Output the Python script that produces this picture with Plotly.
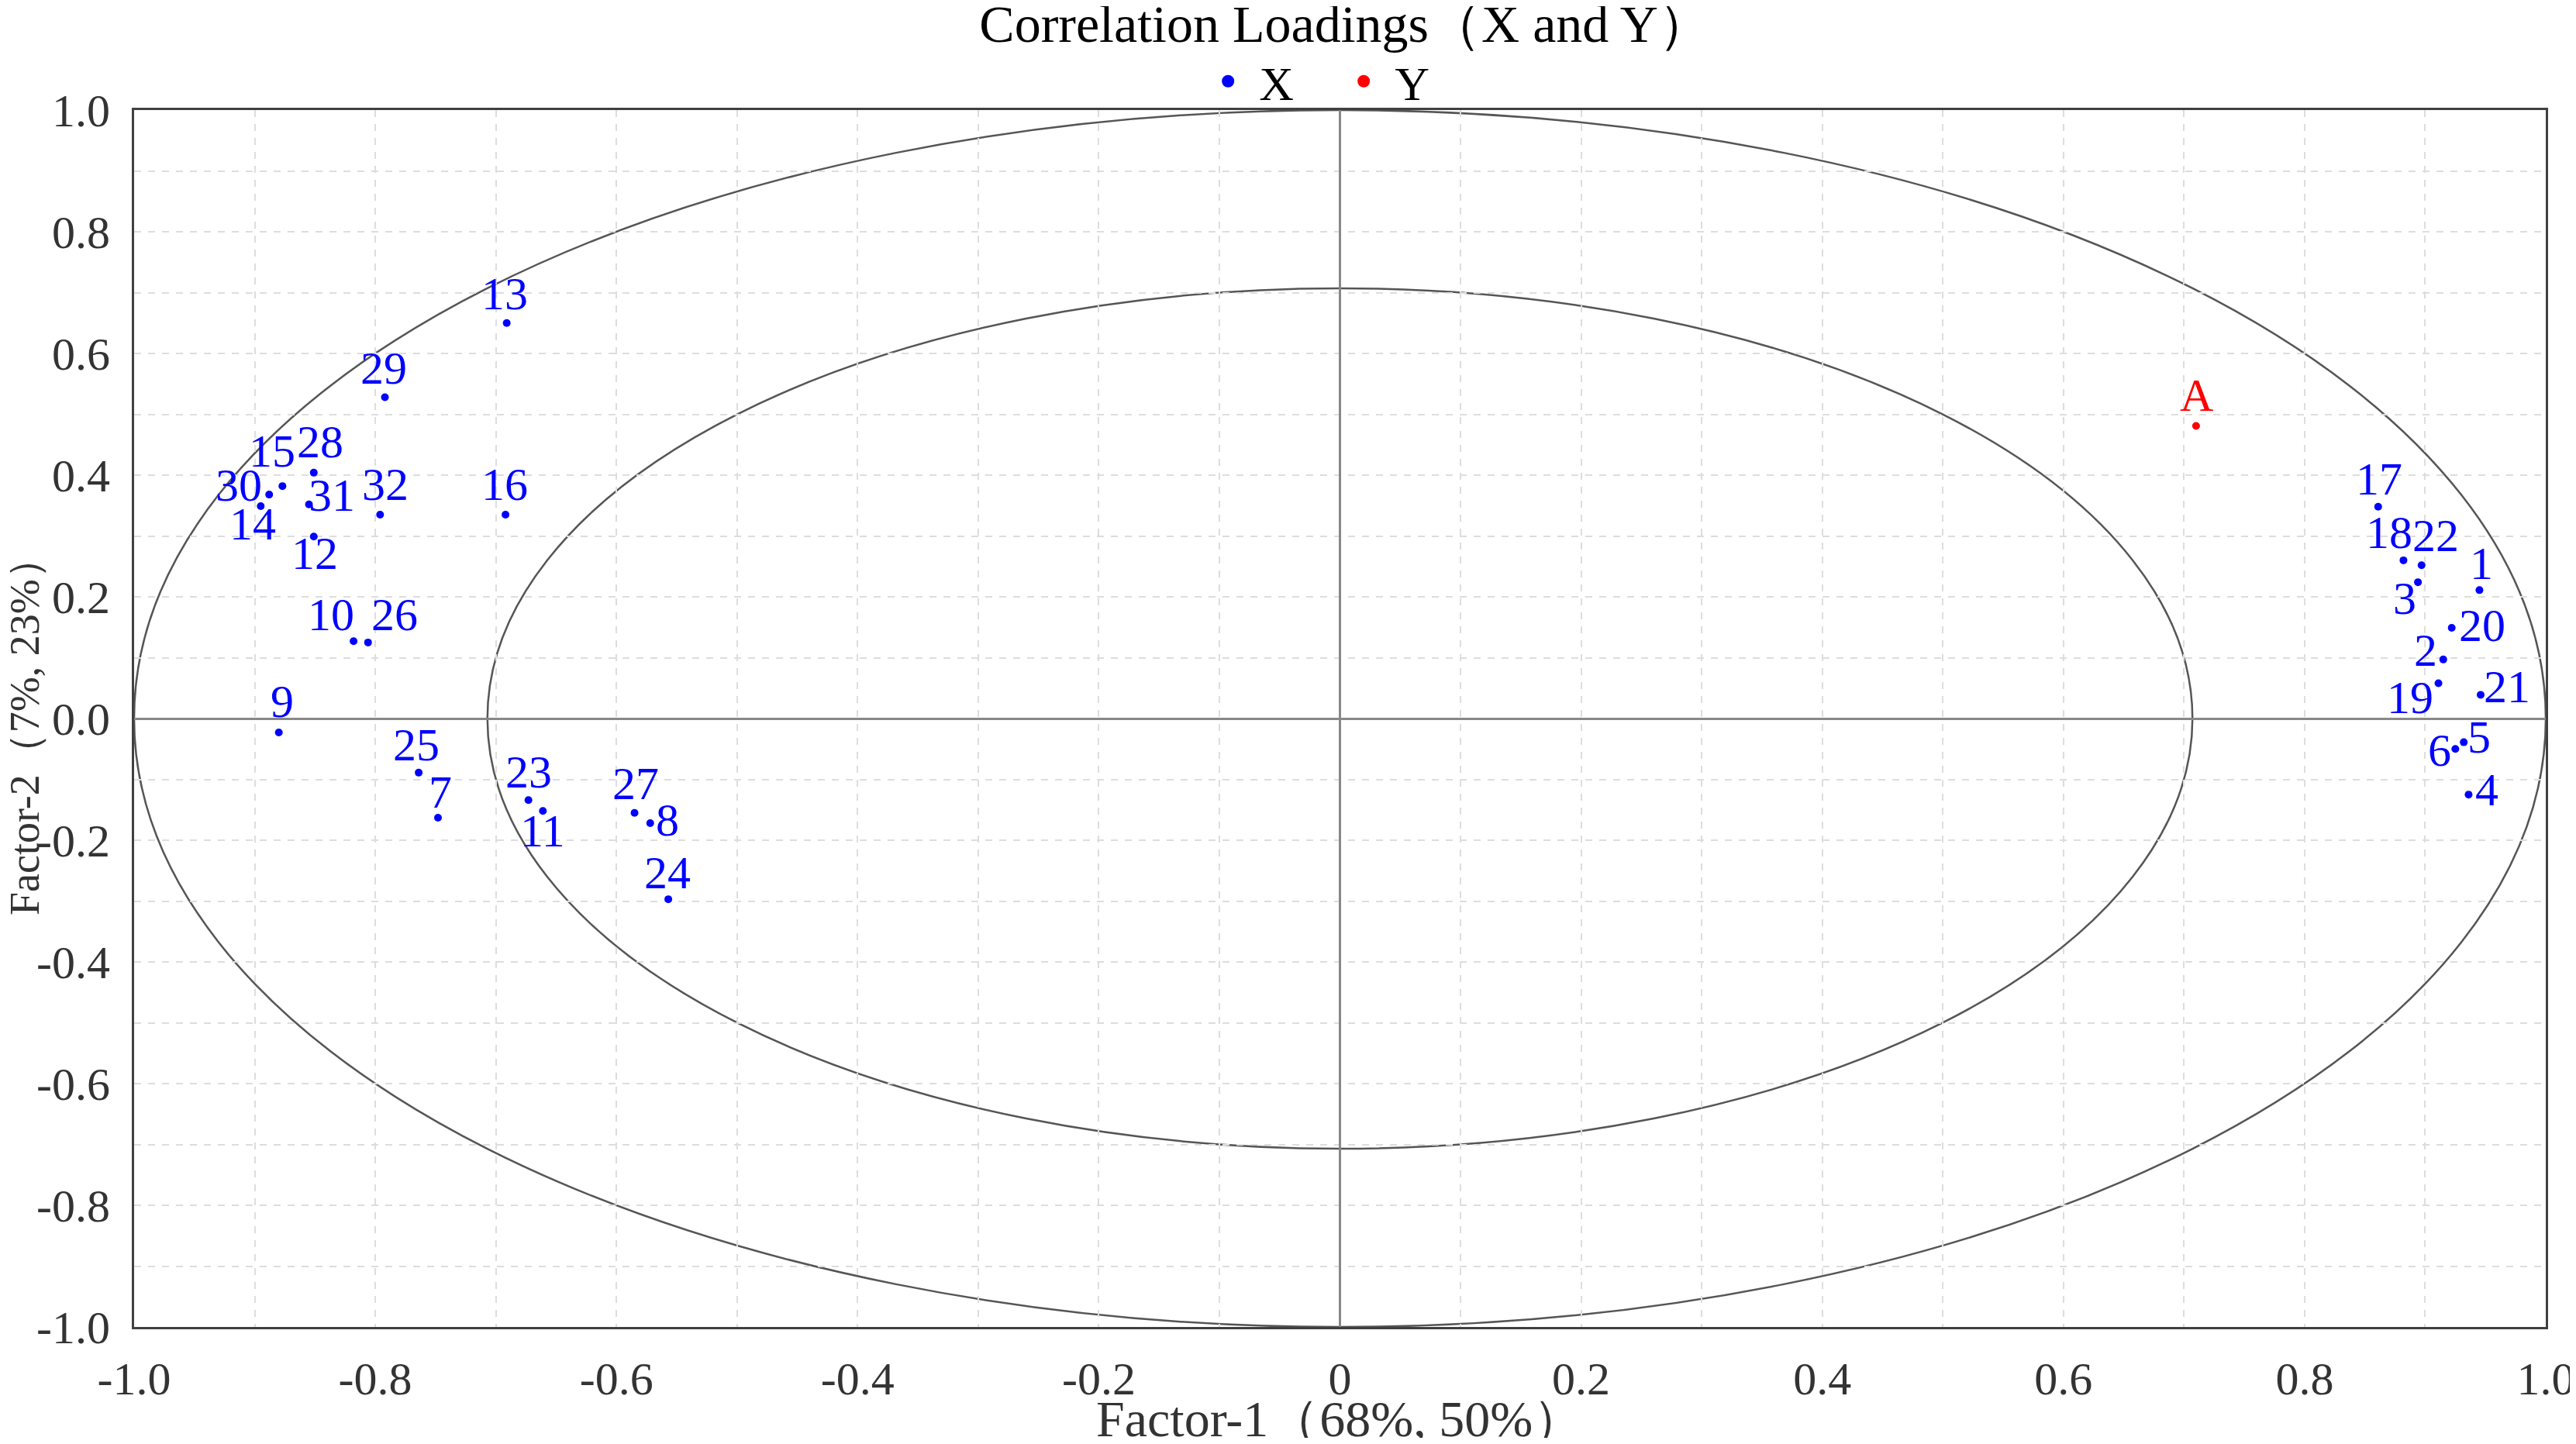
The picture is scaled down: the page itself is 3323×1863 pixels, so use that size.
import plotly.graph_objects as go

# X loadings (factor-1, factor-2)
x_labels = [str(i) for i in range(1, 33)]
x_factor1 = [0.945, 0.915, 0.894, 0.936, 0.932, 0.925, -0.748, -0.572,
             -0.880, -0.818, -0.661, -0.851, -0.691, -0.895, -0.877, -0.692,
             0.861, 0.882, 0.911, 0.922, 0.946, 0.897, -0.673, -0.557,
             -0.764, -0.806, -0.585, -0.851, -0.792, -0.888, -0.855, -0.796]
x_factor2 = [0.211, 0.097, 0.224, -0.125, -0.039, -0.050, -0.163, -0.172,
             -0.023, 0.127, -0.152, 0.299, 0.650, 0.349, 0.382, 0.335,
             0.348, 0.260, 0.058, 0.149, 0.039, 0.252, -0.134, -0.297,
             -0.089, 0.125, -0.155, 0.404, 0.528, 0.368, 0.352, 0.335]

# Y loadings
y_labels = ["A"]
y_factor1 = [0.710]
y_factor2 = [0.481]

# explained variance ellipses (100% and 50%)
ellipse_radii = [1.0, 0.707]

xtick_vals = [-1.0, -0.8, -0.6, -0.4, -0.2, 0, 0.2, 0.4, 0.6, 0.8, 1.0]
xtick_text = ["-1.0", "-0.8", "-0.6", "-0.4", "-0.2", "0", "0.2", "0.4", "0.6", "0.8", "1.0"]
ytick_vals = [1.0, 0.8, 0.6, 0.4, 0.2, 0.0, -0.2, -0.4, -0.6, -0.8, -1.0]
ytick_text = ["1.0", "0.8", "0.6", "0.4", "0.2", "0.0", "-0.2", "-0.4", "-0.6", "-0.8", "-1.0"]

x_title = "Factor-1（68%, 50%）"
y_title = "Factor-2（7%, 23%）"
chart_title = "Correlation Loadings（X and Y）"

# label nudges in pixels (right, up), so labels sit like in the original
x_label_shift = [(3, 30), (-23, 8), (-17, -25), (24, 2), (20, 3), (-20, -6),
                 (3, 29), (22, 0), (4, 36), (-29, 30), (0, -30), (1, -26),
                 (-3, 34), (-10, -27), (-13, 41), (-1, 35), (1, 32), (-18, 32),
                 (-37, -23), (39, -1), (34, 6), (18, 34), (0, 32), (-1, 30),
                 (-3, 32), (34, 32), (1, 34), (8, 36), (-2, 34), (-39, 8),
                 (29, 8), (7, 35)]
y_label_shift = [(1, 35)]

FONT = "Liberation Serif"
BLUE = "#0000FF"
RED = "#FF0000"

fig = go.Figure()

fig.add_trace(go.Scatter(x=x_factor1, y=x_factor2, mode="markers", name="X",
                         marker=dict(color=BLUE, size=10), showlegend=False))
fig.add_trace(go.Scatter(x=y_factor1, y=y_factor2, mode="markers", name="Y",
                         marker=dict(color=RED, size=10), showlegend=False))
# legend entries with big dots
fig.add_trace(go.Scatter(x=[None], y=[None], mode="markers", name="X",
                         marker=dict(color=BLUE, size=36)))
fig.add_trace(go.Scatter(x=[None], y=[None], mode="markers", name="Y",
                         marker=dict(color=RED, size=36)))

for lab, xv, yv, sh in zip(x_labels, x_factor1, x_factor2, x_label_shift):
    fig.add_annotation(x=xv, y=yv, text=lab, showarrow=False,
                       xshift=sh[0], yshift=sh[1] + 4,
                       font=dict(family=FONT, size=60, color=BLUE))
for lab, xv, yv, sh in zip(y_labels, y_factor1, y_factor2, y_label_shift):
    fig.add_annotation(x=xv, y=yv, text=lab, showarrow=False,
                       xshift=sh[0], yshift=sh[1] + 4,
                       font=dict(family=FONT, size=60, color=RED))

for r in ellipse_radii:
    fig.add_shape(type="circle", xref="x", yref="y", x0=-r, y0=-r, x1=r, y1=r,
                  line=dict(color="#555555", width=2.5), layer="below")

# axis titles
fig.add_annotation(x=0.5, y=0, xref="paper", yref="paper", text=x_title,
                   showarrow=False, yanchor="middle", yshift=-118,
                   font=dict(family=FONT, size=66, color="#333333"))
fig.add_annotation(x=0, y=0.5, xref="paper", yref="paper", text=y_title,
                   showarrow=False, textangle=-90, xanchor="center",
                   yanchor="middle", xshift=-141, yshift=-10,
                   font=dict(family=FONT, size=54, color="#333333"))

axis_common = dict(
    showline=True, linecolor="#404040", linewidth=3, mirror=True,
    showgrid=True, gridcolor="#DDDDDD", gridwidth=1.5, griddash="dash",
    zeroline=True, zerolinecolor="#888888", zerolinewidth=2.5,
    ticks="", automargin=False, ticklabeloverflow="allow",
    tickfont=dict(family=FONT, size=60, color="#333333"),
    minor=dict(dtick=0.1, showgrid=True, gridcolor="#DDDDDD",
               gridwidth=1.5, griddash="dash"),
)

fig.update_xaxes(range=[-1, 1], tickvals=xtick_vals, ticktext=xtick_text,
                 ticklabelstandoff=12, **axis_common)
fig.update_yaxes(range=[-1, 1], tickvals=ytick_vals, ticktext=ytick_text,
                 ticklabelstandoff=16, **axis_common)

fig.update_layout(
    width=3315, height=1847,
    margin=dict(l=165, r=39, t=134, b=143, autoexpand=False),
    plot_bgcolor="white", paper_bgcolor="white",
    title=dict(text=chart_title, x=0.521, xanchor="center",
               y=0.988, yanchor="middle",
               font=dict(family=FONT, size=68, color="black")),
    legend=dict(orientation="h", x=0.497, xanchor="center", y=0.9475,
                yref="container", yanchor="middle",
                itemwidth=70, entrywidth=90,
                font=dict(family=FONT, size=62, color="black"),
                bgcolor="rgba(0,0,0,0)"),
)

fig.write_html("out.html")
